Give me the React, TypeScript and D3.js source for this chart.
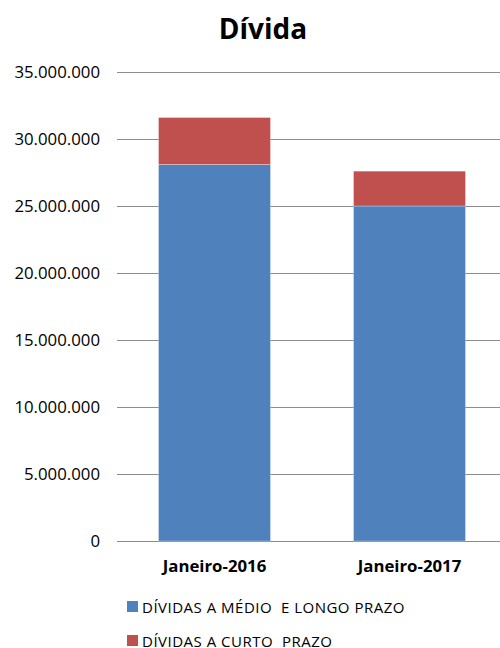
import React from "react";
import * as d3 from "d3";

const categories = ["Janeiro-2016", "Janeiro-2017"];
const longTerm = [28100000, 25000000];
const shortTerm = [3500000, 2600000];
const seriesNames = ["DÍVIDAS A MÉDIO  E LONGO PRAZO", "DÍVIDAS A CURTO  PRAZO"];
const seriesColors = ["#4f81bd", "#c0504d"];
const yTicks = [0, 5000000, 10000000, 15000000, 20000000, 25000000, 30000000, 35000000];

const width = 500;
const height = 648;
// plot area runs a little past the right edge (the picture is cropped there)
const margin = { top: 72, right: -7, bottom: 107, left: 117 };
const font = "'Open Sans', 'Liberation Sans', sans-serif";

const fmt = (v: number) =>
  v === 0 ? "0" : d3.format(",")(v).replace(/,/g, ".");

export default function App() {
  const x = d3
    .scaleBand<string>()
    .domain(categories)
    .range([margin.left, width - margin.right])
    .paddingInner(0.426)
    .paddingOuter(0.213);
  const y = d3
    .scaleLinear()
    .domain([0, 35000000])
    .range([height - margin.bottom, margin.top]);

  const stacked = d3
    .stack<number>()
    .keys(["0", "1"])
    .value((i, key) => (key === "0" ? longTerm[i] : shortTerm[i]))(
    categories.map((_, i) => i)
  );

  return (
    <svg
      width={width}
      height={height}
      style={{ position: "absolute", left: 0, top: 0, background: "#fff" }}
      fontFamily={font}
    >
      <text x={263} y={39} textAnchor="middle" fontSize={28} fontWeight="bold" fill="#000">
        Dívida
      </text>
      {yTicks.map((t) => (
        <g key={t}>
          <line
            x1={margin.left}
            x2={width}
            y1={Math.round(y(t)) + 0.5}
            y2={Math.round(y(t)) + 0.5}
            stroke="#8c8c8c"
            strokeWidth={1.2}
          />
          <text x={100} y={y(t) + 6} textAnchor="end" fontSize={16.8} fill="#000">
            {fmt(t)}
          </text>
        </g>
      ))}
      {stacked.map((layer, si) =>
        layer.map((d, i) => (
          <rect
            key={`${si}-${i}`}
            x={x(categories[i])}
            y={y(d[1])}
            width={x.bandwidth()}
            height={y(d[0]) - y(d[1])}
            fill={seriesColors[si]}
            stroke="#ffffff"
            strokeOpacity={0.35}
            strokeWidth={0.8}
          />
        ))
      )}
      {categories.map((c) => (
        <text
          key={c}
          x={(x(c) ?? 0) + x.bandwidth() / 2}
          y={572}
          textAnchor="middle"
          fontSize={16.8}
          fontWeight="bold"
          fill="#000"
        >
          {c}
        </text>
      ))}
      {seriesNames.map((name, i) => (
        <g key={name}>
          <rect x={127} y={601 + i * 34} width={11} height={11} fill={seriesColors[i]} />
          <text
            x={142}
            y={612.5 + i * 34}
            fontSize={15}
            letterSpacing={0.5}
            fill="#000"
            style={{ whiteSpace: "pre" }}
          >
            {name}
          </text>
        </g>
      ))}
    </svg>
  );
}
